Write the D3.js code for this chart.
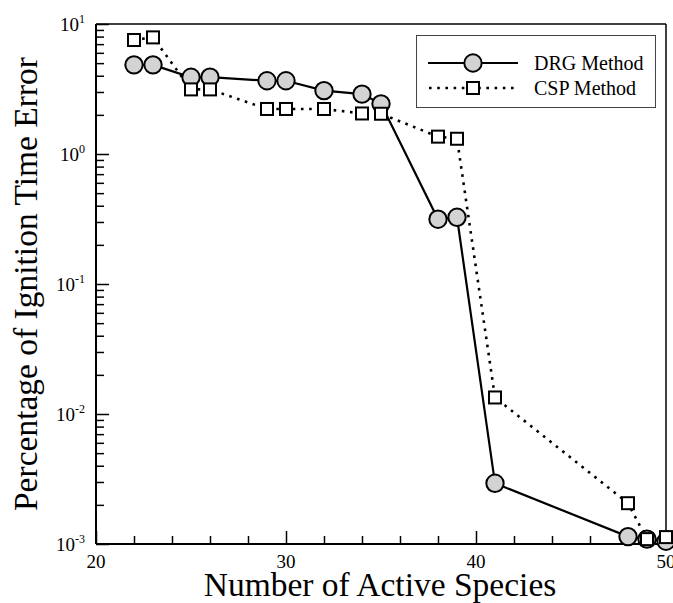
<!DOCTYPE html>
<html>
<head>
<meta charset="utf-8">
<script src="https://cdn.jsdelivr.net/npm/d3@7"></script>
<style>
  body { margin: 0; background: #fff; }
  text { font-family: "Liberation Serif", "Times New Roman", serif; fill: #000; }
</style>
</head>
<body>
<div id="chart"></div>
<script>
// number of active species vs. ignition time error (%)
const drgSpecies = [22, 23, 25, 26, 29, 30, 32, 34, 35, 38, 39, 41, 48, 49, 50];
const drgError = [4.85, 4.85, 3.89, 3.9, 3.66, 3.66, 3.07, 2.89, 2.43, 0.315, 0.326, 0.00293, 0.00114, 0.00109, 0.00105];

const cspSpecies = [22, 23, 25, 26, 29, 30, 32, 34, 35, 38, 39, 41, 48, 49, 50];
const cspError = [7.53, 7.89, 3.14, 3.14, 2.22, 2.22, 2.22, 2.05, 2.04, 1.36, 1.31, 0.0134, 0.00206, 0.00109, 0.00113];

const xMajor = [20, 30, 40, 50];
const yMajor = [1e-3, 1e-2, 1e-1, 1, 10];
const yExponents = ["-3", "-2", "-1", "0", "1"];

const W = 673, H = 603;
const mLeft = 96, mRight = 666, mTop = 24, mBottom = 544;

const svg = d3.select("#chart").append("svg")
    .attr("width", W)
    .attr("height", H);

const x = d3.scaleLinear().domain([20, 50]).range([mLeft, mRight]);
const y = d3.scaleLog().domain([1e-3, 10]).range([mBottom, mTop]);

// minor ticks on y: 2..9 in each decade
const yMinor = [];
for (let e = -3; e < 1; e++) {
    for (let k = 2; k <= 9; k++) yMinor.push(k * Math.pow(10, e));
}
const xMinor = d3.range(22, 50, 2).filter(v => v % 10 !== 0);

// frame (top/right thinner)
svg.append("line").attr("x1", mLeft).attr("x2", mRight).attr("y1", mTop).attr("y2", mTop)
    .attr("stroke", "#000").attr("stroke-width", 1.5);
svg.append("line").attr("x1", mRight).attr("x2", mRight).attr("y1", mTop).attr("y2", mBottom)
    .attr("stroke", "#000").attr("stroke-width", 1.5);

// left axis, ticks pointing inward
const yAxisMajor = d3.axisRight(y).tickValues(yMajor).tickSize(13).tickFormat("");
const yAxisMinor = d3.axisRight(y).tickValues(yMinor).tickSize(8).tickFormat("");
const gy = svg.append("g").attr("transform", `translate(${mLeft},0)`);
gy.call(yAxisMajor);
gy.append("g").call(yAxisMinor);
gy.selectAll(".domain").remove();
gy.selectAll("line").attr("stroke", "#000").attr("stroke-width", 1.5);
svg.append("line").attr("x1", mLeft).attr("x2", mLeft).attr("y1", mTop).attr("y2", mBottom)
    .attr("stroke", "#000").attr("stroke-width", 2);

// bottom axis, ticks pointing inward
const xAxisMajor = d3.axisTop(x).tickValues(xMajor).tickSize(13).tickFormat("");
const xAxisMinor = d3.axisTop(x).tickValues(xMinor).tickSize(8).tickFormat("");
const gx = svg.append("g").attr("transform", `translate(0,${mBottom})`);
gx.call(xAxisMajor);
gx.append("g").call(xAxisMinor);
gx.selectAll(".domain").remove();
gx.selectAll("line").attr("stroke", "#000").attr("stroke-width", 1.5);
svg.append("line").attr("x1", mLeft).attr("x2", mRight).attr("y1", mBottom).attr("y2", mBottom)
    .attr("stroke", "#000").attr("stroke-width", 2);

// tick labels
svg.selectAll(".xlabel")
    .data(xMajor)
    .enter()
    .append("text")
    .attr("class", "xlabel")
    .attr("x", d => x(d))
    .attr("y", mBottom + 24)
    .attr("text-anchor", "middle")
    .attr("font-size", 19)
    .text(d => d);

const ylab = svg.selectAll(".ylabel")
    .data(yMajor)
    .enter()
    .append("text")
    .attr("class", "ylabel")
    .attr("x", 85)
    .attr("y", d => y(d) + 7)
    .attr("text-anchor", "end")
    .attr("font-size", 19);
ylab.append("tspan").text("10");
ylab.append("tspan")
    .attr("font-size", 12)
    .attr("dy", -8)
    .text((d, i) => yExponents[i]);

// axis titles
svg.append("text")
    .attr("x", 380)
    .attr("y", 596)
    .attr("text-anchor", "middle")
    .attr("font-size", 33.5)
    .text("Number of Active Species");

svg.append("text")
    .attr("transform", "translate(37,284) rotate(-90)")
    .attr("text-anchor", "middle")
    .attr("font-size", 33.5)
    .text("Percentage of Ignition Time Error");

// series
const line = d3.line().x(d => x(d[0])).y(d => y(d[1]));
const drg = drgSpecies.map((s, i) => [s, drgError[i]]);
const csp = cspSpecies.map((s, i) => [s, cspError[i]]);

svg.append("path")
    .datum(drg)
    .attr("d", line)
    .attr("fill", "none")
    .attr("stroke", "#000")
    .attr("stroke-width", 2.2);

svg.append("path")
    .datum(csp)
    .attr("d", line)
    .attr("fill", "none")
    .attr("stroke", "#000")
    .attr("stroke-width", 2.6)
    .attr("stroke-dasharray", "2.6 5.6");

svg.selectAll(".drg-pt")
    .data(drg)
    .enter()
    .append("circle")
    .attr("class", "drg-pt")
    .attr("cx", d => x(d[0]))
    .attr("cy", d => y(d[1]))
    .attr("r", 8.7)
    .attr("fill", "#d3d3d3")
    .attr("stroke", "#000")
    .attr("stroke-width", 2);

const sq = 12;
svg.selectAll(".csp-pt")
    .data(csp)
    .enter()
    .append("rect")
    .attr("class", "csp-pt")
    .attr("x", d => x(d[0]) - sq / 2)
    .attr("y", d => y(d[1]) - sq / 2)
    .attr("width", sq)
    .attr("height", sq)
    .attr("fill", "#fff")
    .attr("stroke", "#000")
    .attr("stroke-width", 2);

// legend
const lg = svg.append("g");
lg.append("rect")
    .attr("x", 416.5).attr("y", 35.5)
    .attr("width", 239).attr("height", 72)
    .attr("fill", "#fff")
    .attr("stroke", "#444")
    .attr("stroke-width", 1);

lg.append("line")
    .attr("x1", 428).attr("x2", 518).attr("y1", 63).attr("y2", 63)
    .attr("stroke", "#000").attr("stroke-width", 2.2);
lg.append("circle")
    .attr("cx", 473).attr("cy", 63).attr("r", 8.7)
    .attr("fill", "#d3d3d3").attr("stroke", "#000").attr("stroke-width", 2);
lg.append("text")
    .attr("x", 534).attr("y", 70)
    .attr("font-size", 20)
    .text("DRG Method");

lg.append("line")
    .attr("x1", 429).attr("x2", 518).attr("y1", 88).attr("y2", 88)
    .attr("stroke", "#000").attr("stroke-width", 2.6)
    .attr("stroke-dasharray", "2.6 5.6");
lg.append("rect")
    .attr("x", 473 - sq / 2).attr("y", 88 - sq / 2)
    .attr("width", sq).attr("height", sq)
    .attr("fill", "#fff").attr("stroke", "#000").attr("stroke-width", 2);
lg.append("text")
    .attr("x", 534).attr("y", 95)
    .attr("font-size", 20)
    .text("CSP Method");
</script>
</body>
</html>
